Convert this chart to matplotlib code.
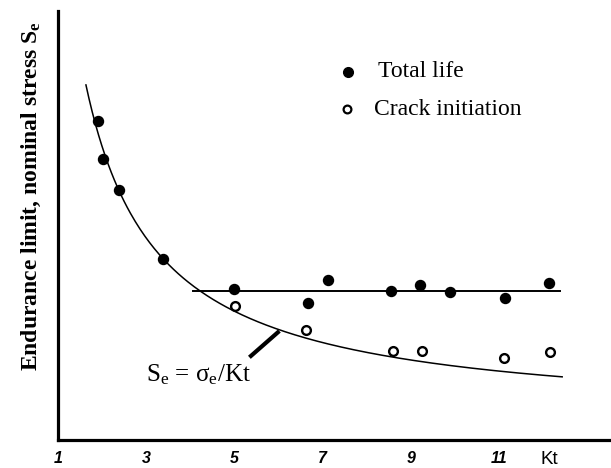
import numpy as np
import matplotlib
matplotlib.use("Agg")
import matplotlib.pyplot as plt

plt.rcParams['mathtext.fontset'] = 'custom'
plt.rcParams['mathtext.rm'] = 'Liberation Serif'
plt.rcParams['mathtext.it'] = 'Liberation Serif:italic'
plt.rcParams['mathtext.bf'] = 'Liberation Serif:bold'

# ---- data (y in arbitrary stress units) ----
total_kt = [1.91, 2.01, 2.38, 3.37, 5.00, 6.66, 7.12, 8.54, 9.21, 9.89, 11.13, 12.14]
total_se = [300, 262, 231, 162, 132, 118, 141, 130, 136, 129, 123, 138]

crack_kt = [5.01, 6.62, 8.60, 9.25, 11.11, 12.16]
crack_se = [115, 91, 70, 70, 63, 69]

sigma_e = 549.0            # Se = sigma_e / Kt
curve_kt_range = [1.63, 12.45]
plateau_se = 130.3
plateau_kt_range = [4.05, 12.38]

xtick_vals = [1, 3, 5, 7, 9, 11]
xtick_labels = ['1', '3', '5', '7', '9', '11']

# ---- figure ----
fig = plt.figure(figsize=(6.11, 4.68), dpi=100)
ax = fig.add_axes([58/611, 1-440/468, 1-58/611, (440-11)/468])
ax.set_xlim(1, 13.54)
ax.set_ylim(-19, 410)

kt = np.linspace(curve_kt_range[0], curve_kt_range[1], 300)
ax.plot(kt, sigma_e / kt, color='black', lw=1.1, solid_capstyle='butt')
ax.plot(plateau_kt_range, [plateau_se, plateau_se], color='black', lw=1.4)

ax.plot(total_kt, total_se, 'o', color='black', ms=7.2, zorder=3)
ax.plot(crack_kt, crack_se, 'o', mfc='white', mec='black', mew=1.7, ms=6.3, zorder=3)

# leader line to the curve label
ax.plot([6.02, 5.34], [90, 63.7], color='black', lw=3.0, solid_capstyle='butt')
ax.text(3.0, 39.3, 'S$_\\mathregular{e}$ = σ$_\\mathregular{e}$/Kt', fontsize=18,
        family='Liberation Serif', ha='left', va='baseline')

# manual legend
ax.plot([7.576], [349.3], 'o', color='black', ms=7.0, clip_on=False)
ax.plot([7.546], [311.7], 'o', mfc='white', mec='black', mew=1.6, ms=5.6, clip_on=False)
ax.text(8.256, 349.3, 'Total life', fontsize=17, family='Liberation Serif',
        ha='left', va='center')
ax.text(8.166, 311.7, 'Crack initiation', fontsize=17, family='Liberation Serif',
        ha='left', va='center')

# axes styling
for s in ['top', 'right']:
    ax.spines[s].set_visible(False)
ax.spines['left'].set_linewidth(2.3)
ax.spines['bottom'].set_linewidth(2.3)
ax.set_yticks([])
ax.set_xticks(xtick_vals)
ax.set_xticklabels(xtick_labels, fontsize=11.5, family='Liberation Sans',
                   fontweight='bold', style='italic')
ax.tick_params(axis='x', length=0, pad=8)

fig.text(549/611, 1-459/468, 'Kt', fontsize=13.5, family='Liberation Sans',
         ha='center', va='center')

fig.text(31.5/611, 1-196.5/468, 'Endurance limit, nominal stress S$_\\mathbf{e}$',
         fontsize=17, family='Liberation Serif', fontweight='bold',
         rotation=90, ha='center', va='center')

fig.savefig('out.png', dpi=100)
